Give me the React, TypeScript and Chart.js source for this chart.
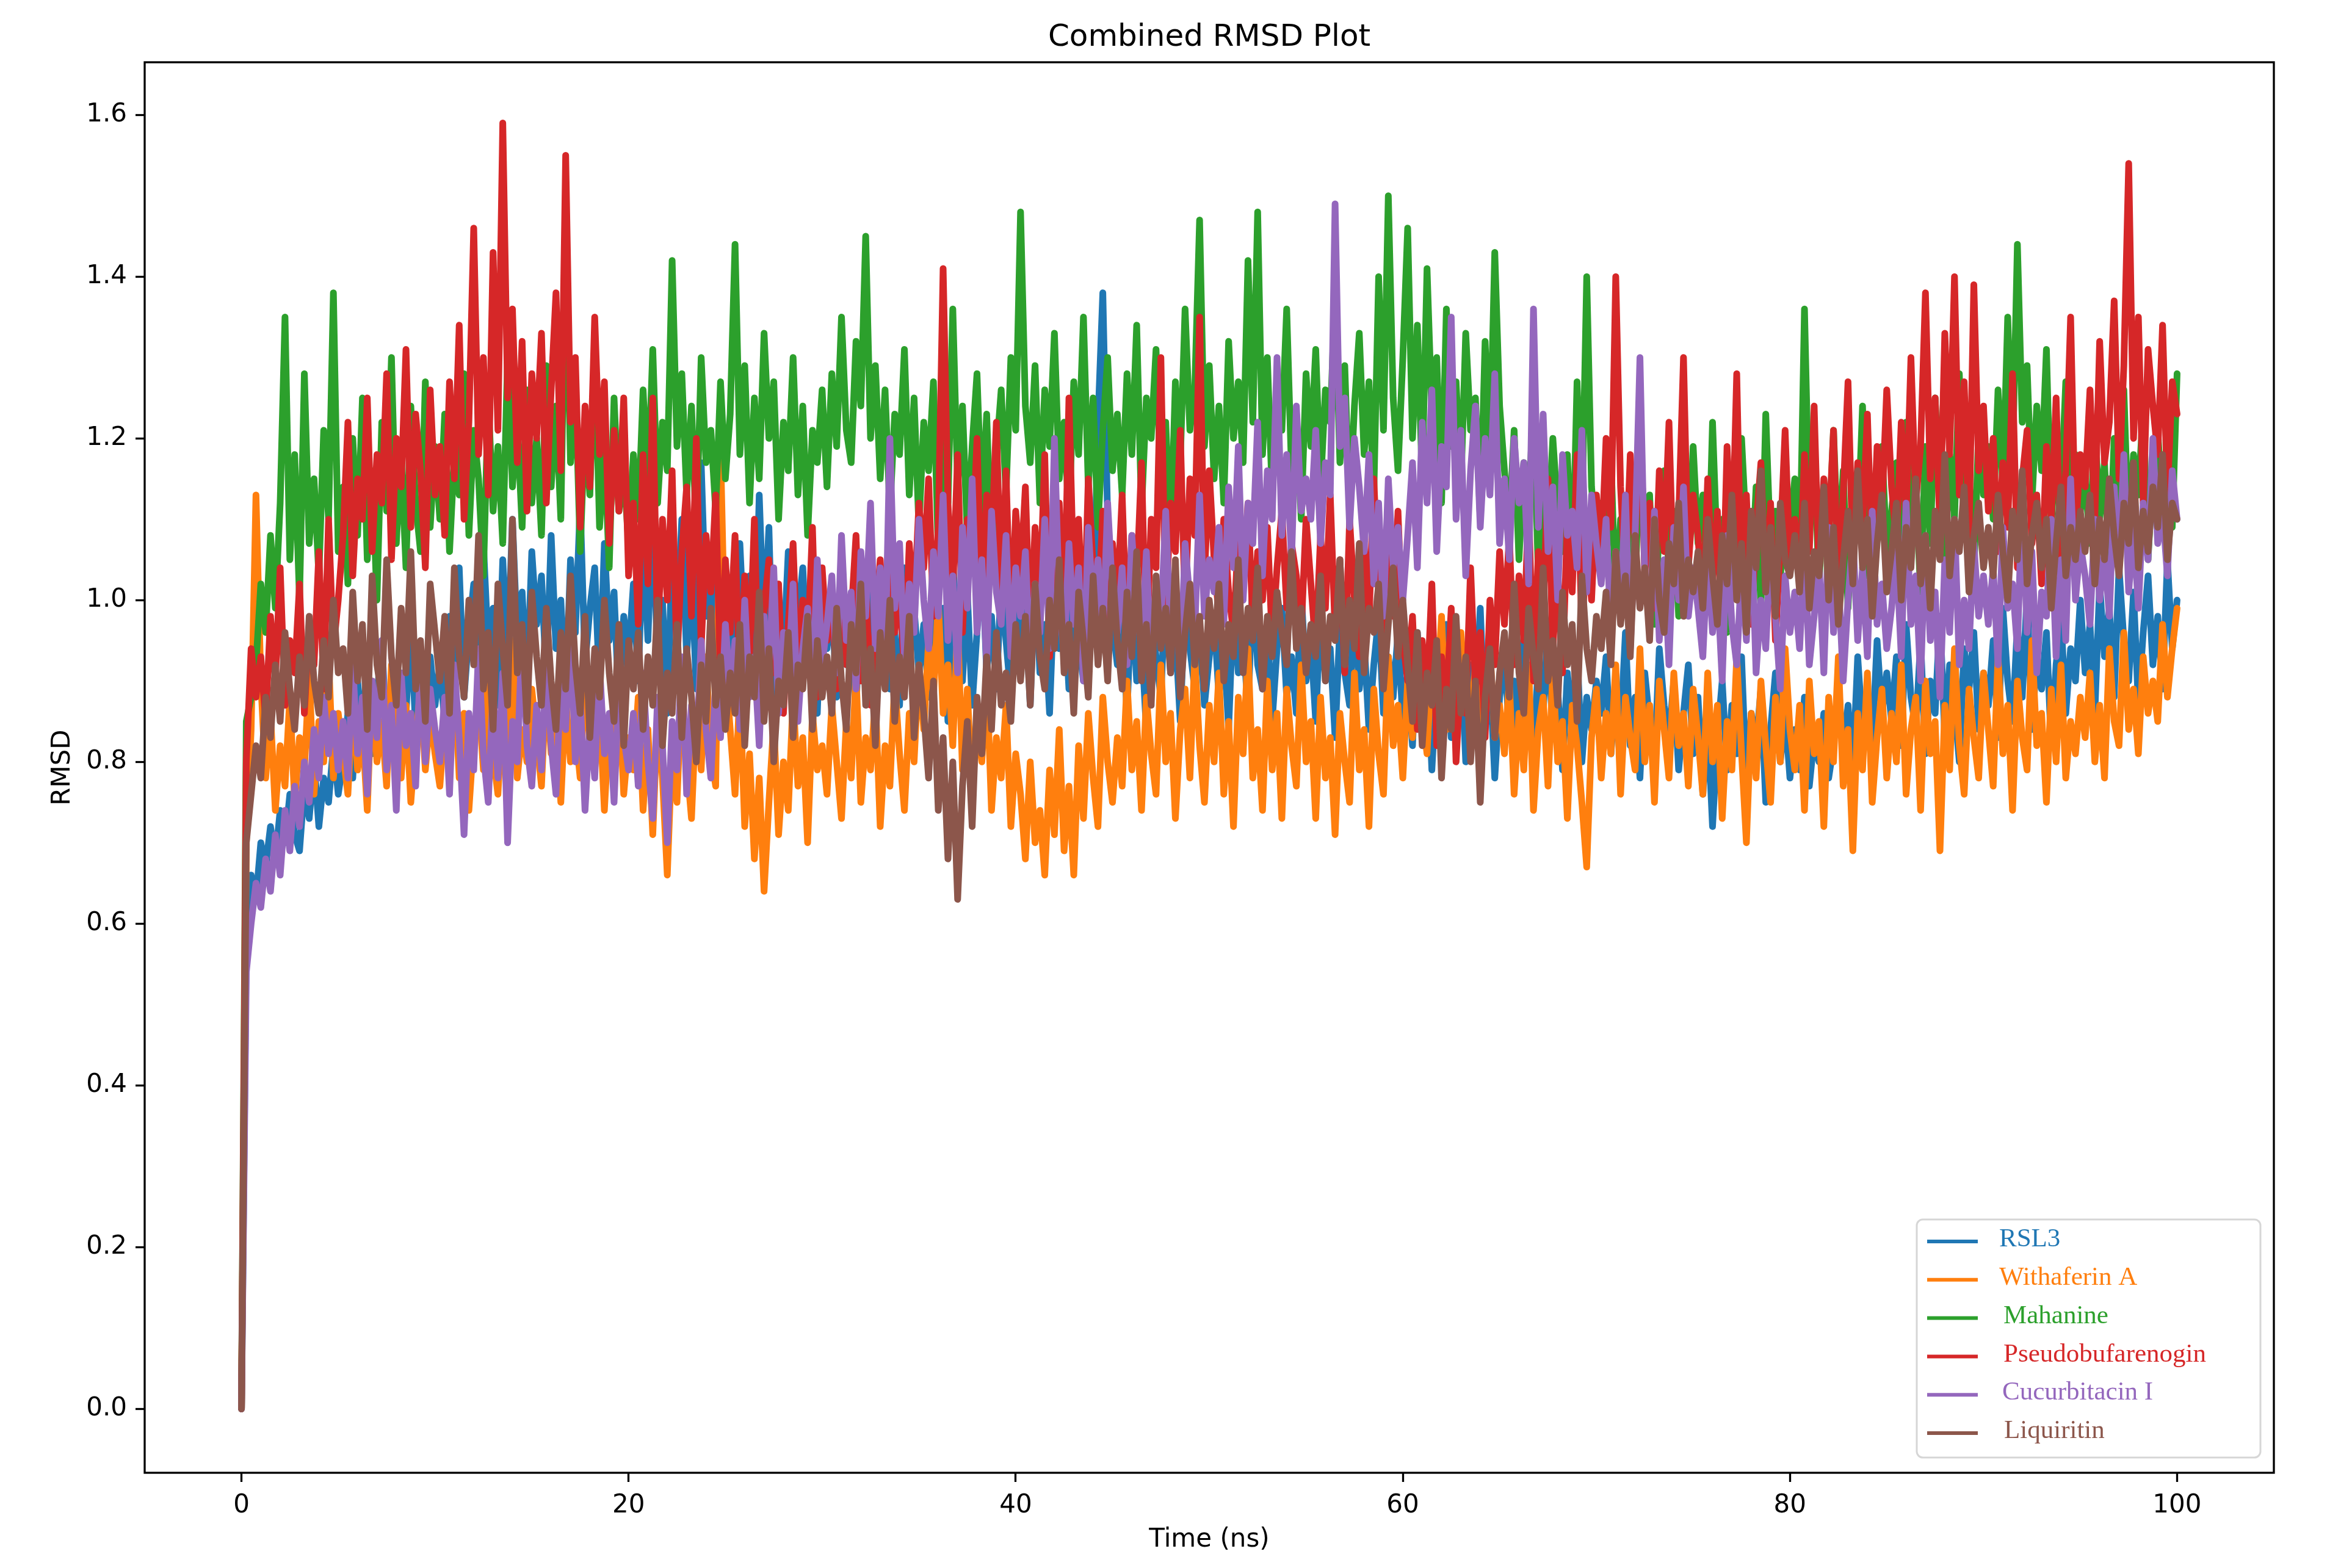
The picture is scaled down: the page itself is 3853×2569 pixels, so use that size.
import React, { useEffect, useRef } from 'react';
import { Chart, registerables } from 'chart.js';

Chart.register(...registerables);

// one frame every 0.25 ns, values in nm in 5 ns blocks
const STEP_NS = 0.25;

const seriesNames = ['RSL3', 'Withaferin A', 'Mahanine', 'Pseudobufarenogin', 'Cucurbitacin I', 'Liquiritin'];
const seriesColors = ['#1f77b4', '#ff7f0e', '#2ca02c', '#d62728', '#9467bd', '#8c564b'];

const rsl3 = [0,
  0.58, 0.66, 0.63, 0.70, 0.67, 0.72, 0.68, 0.74, 0.70, 0.76, 0.71, 0.69, 0.77, 0.73, 0.80, 0.72, 0.78, 0.75, 0.82, 0.76,
  0.80, 0.86, 0.78, 0.90, 0.84, 0.92, 0.81, 0.88, 0.95, 0.83, 0.89, 0.79, 0.91, 0.86, 0.97, 0.84, 0.90, 0.82, 0.93, 0.87,
  0.92, 0.85, 0.98, 0.90, 1.04, 0.88, 0.96, 1.02, 0.91, 1.07, 0.94, 0.99, 0.87, 1.05, 0.93, 1.10, 0.95, 1.01, 0.89, 1.06,
  0.97, 1.03, 0.90, 1.08, 0.94, 1.00, 0.88, 1.05, 0.96, 1.12, 0.92, 0.99, 1.04, 0.89, 1.07, 0.95, 1.01, 0.87, 0.98, 0.93,
  1.02, 0.90, 1.08, 0.95, 1.13, 0.91, 1.00, 0.86, 1.06, 0.97, 1.10, 0.93, 1.04, 0.89, 1.17, 0.98, 1.05, 0.92, 1.12, 0.96,
  1.01, 0.88, 1.07, 0.94, 1.03, 0.90, 1.13, 0.96, 1.09, 0.87, 1.00, 0.93, 1.06, 0.89, 0.98, 1.04, 0.91, 0.97, 0.86, 1.02,
  0.94, 1.00, 0.88, 1.05, 0.92, 0.98, 0.86, 1.03, 0.95, 1.08, 0.90, 0.97, 1.02, 0.89, 0.96, 0.87, 1.04, 0.93, 0.99, 0.91,
  0.97, 0.88, 1.03, 0.92, 0.99, 0.85, 1.05, 0.94, 0.90, 1.01, 0.87, 0.96, 1.06, 0.91, 0.98, 0.89, 1.02, 0.95, 0.88, 1.00,
  0.93, 0.99, 0.87, 1.04, 0.91, 0.97, 0.86, 1.02, 0.94, 1.00, 0.89, 1.06, 0.95, 0.90, 1.03, 0.96, 1.22, 1.38, 1.10, 0.97,
  0.92, 0.98, 0.86, 1.01, 0.90, 0.95, 0.84, 0.99, 0.93, 0.88, 1.02, 0.91, 0.96, 0.85, 1.00, 0.94, 0.89, 0.97, 0.87, 0.93,
  0.98, 0.88, 0.95, 0.84, 1.00, 0.91, 0.96, 0.86, 1.03, 0.92, 0.89, 0.97, 0.85, 0.94, 0.99, 0.88, 0.93, 0.86, 1.01, 0.90,
  0.95, 0.85, 0.99, 0.90, 0.94, 0.83, 0.97, 0.91, 0.87, 1.00, 0.89, 0.95, 0.84, 0.92, 0.98, 0.86, 0.93, 0.88, 0.96, 0.85,
  0.91, 0.82, 0.96, 0.87, 0.93, 0.79, 0.90, 0.85, 0.97, 0.83, 0.89, 0.94, 0.80, 0.92, 0.86, 0.99, 0.84, 0.91, 0.78, 0.88,
  0.93, 0.84, 0.90, 0.81, 0.95, 0.87, 0.82, 0.92, 0.86, 0.97, 0.83, 0.89, 0.79, 0.91, 0.85, 0.94, 0.80, 0.88, 0.84, 0.90,
  0.86, 0.93, 0.81, 0.89, 0.84, 0.96, 0.82, 0.88, 0.78, 0.91, 0.85, 0.80, 0.94, 0.87, 0.83, 0.90, 0.79, 0.86, 0.92, 0.81,
  0.88, 0.76, 0.85, 0.72, 0.83, 0.90, 0.79, 0.87, 0.81, 0.93, 0.77, 0.86, 0.82, 0.89, 0.75, 0.84, 0.91, 0.80, 0.86, 0.78,
  0.84, 0.79, 0.88, 0.77, 0.83, 0.80, 0.86, 0.78, 0.82, 0.90, 0.81, 0.87, 0.79, 0.93, 0.84, 0.89, 0.82, 0.95, 0.86, 0.91,
  0.85, 0.93, 0.82, 0.97, 0.88, 0.84, 0.95, 0.81, 0.90, 0.86, 0.98, 0.83, 0.92, 0.87, 0.80, 0.94, 0.89, 0.96, 0.84, 0.91,
  0.87, 0.95, 0.83, 0.99, 0.90, 0.85, 0.97, 0.88, 1.01, 0.84, 0.93, 0.89, 0.96, 0.82, 0.92, 0.98, 0.86, 0.94, 0.90, 1.00,
  0.91, 0.97, 0.86, 1.02, 0.93, 0.99, 0.88, 1.04, 0.95, 0.90, 1.01, 0.87, 0.96, 1.03, 0.92, 0.98, 0.89, 1.05, 0.94, 1.00,
];

const withaferinA = [0,
  0.70, 0.84, 1.13, 0.90, 0.78, 0.86, 0.74, 0.82, 0.77, 0.88, 0.75, 0.83, 0.79, 0.91, 0.76, 0.85, 0.80, 0.93, 0.78, 0.86,
  0.81, 0.76, 0.88, 0.79, 0.84, 0.74, 0.90, 0.80, 0.85, 0.77, 0.92, 0.82, 0.78, 0.87, 0.75, 0.83, 0.89, 0.79, 0.86, 0.81,
  0.77, 0.85, 0.80, 0.91, 0.78, 0.86, 0.74, 0.83, 0.88, 0.79, 0.93, 0.81, 0.76, 0.87, 0.82, 0.95, 0.78, 0.84, 0.80, 0.89,
  0.83, 0.77, 0.90, 0.81, 0.86, 0.75, 0.88, 0.80, 0.84, 0.78, 0.92, 0.82, 0.79, 0.87, 0.74, 0.85, 0.81, 0.89, 0.76, 0.83,
  0.79, 0.88, 0.74, 0.84, 0.71, 0.86, 0.78, 0.66, 0.82, 0.75, 0.90, 0.80, 0.73, 0.87, 0.79, 0.93, 0.81, 0.77, 1.19, 0.92,
  0.84, 0.76, 0.89, 0.72, 0.81, 0.68, 0.78, 0.64, 0.75, 0.85, 0.71, 0.80, 0.74, 0.88, 0.77, 0.83, 0.70, 0.86, 0.79, 0.82,
  0.76, 0.87, 0.80, 0.73, 0.85, 0.78, 0.91, 0.75, 0.83, 0.79, 0.88, 0.72, 0.82, 0.77, 0.90, 0.81, 0.74, 0.86, 0.80, 0.92,
  0.84, 0.95, 0.88, 1.00, 0.86, 0.92, 0.82, 0.97, 0.79, 0.89, 0.76, 0.85, 0.80, 0.91, 0.74, 0.83, 0.78, 0.87, 0.72, 0.81,
  0.76, 0.68, 0.80, 0.70, 0.74, 0.66, 0.79, 0.71, 0.84, 0.69, 0.77, 0.66, 0.82, 0.73, 0.86, 0.78, 0.72, 0.88, 0.80, 0.75,
  0.83, 0.77, 0.90, 0.79, 0.85, 0.74, 0.88, 0.81, 0.76, 0.92, 0.80, 0.86, 0.73, 0.84, 0.89, 0.78, 0.93, 0.82, 0.75, 0.87,
  0.80, 0.91, 0.76, 0.85, 0.72, 0.88, 0.81, 0.94, 0.78, 0.84, 0.74, 0.90, 0.79, 0.86, 0.73, 0.89, 0.82, 0.77, 0.92, 0.80,
  0.85, 0.73, 0.88, 0.78, 0.83, 0.71, 0.86, 0.80, 0.75, 0.91, 0.79, 0.84, 0.72, 0.89, 0.81, 0.76, 0.93, 0.82, 0.87, 0.78,
  0.90, 0.83, 0.95, 0.86, 0.81, 0.93, 0.87, 0.98, 0.84, 0.91, 0.82, 0.96, 0.88, 0.85, 0.92, 0.80, 0.89, 0.94, 0.83, 0.87,
  0.81, 0.90, 0.76, 0.86, 0.79, 0.92, 0.74, 0.84, 0.88, 0.77, 0.91, 0.80, 0.85, 0.73, 0.87, 0.82, 0.75, 0.67, 0.83, 0.89,
  0.78, 0.86, 0.81, 0.92, 0.76, 0.88, 0.83, 0.79, 0.94, 0.80, 0.87, 0.75, 0.90, 0.84, 0.78, 0.91, 0.82, 0.86, 0.77, 0.89,
  0.83, 0.76, 0.91, 0.80, 0.87, 0.73, 0.85, 0.79, 0.93, 0.81, 0.70, 0.86, 0.78, 0.90, 0.82, 0.75, 0.88, 0.80, 0.94, 0.84,
  0.79, 0.87, 0.74, 0.90, 0.81, 0.85, 0.72, 0.88, 0.80, 0.93, 0.77, 0.84, 0.69, 0.86, 0.79, 0.91, 0.75, 0.83, 0.89, 0.78,
  0.86, 0.80, 0.92, 0.76, 0.84, 0.88, 0.74, 0.90, 0.81, 0.85, 0.69, 0.87, 0.79, 0.94, 0.82, 0.76, 0.89, 0.83, 0.78, 0.91,
  0.84, 0.77, 0.93, 0.81, 0.87, 0.74, 0.90, 0.83, 0.79, 0.95, 0.82, 0.86, 0.75, 0.89, 0.80, 0.92, 0.78, 0.85, 0.81, 0.88,
  0.83, 0.91, 0.80, 0.87, 0.78, 0.94, 0.85, 0.82, 0.96, 0.84, 0.89, 0.81, 0.93, 0.86, 0.90, 0.85, 0.97, 0.88, 0.94, 0.99,
];

const mahanine = [0,
  0.85, 0.88, 0.92, 1.02, 0.96, 1.08, 0.99, 1.12, 1.35, 1.05, 1.18, 1.00, 1.28, 1.07, 1.15, 1.03, 1.21, 1.10, 1.38, 1.06,
  1.14, 1.02, 1.20, 1.08, 1.25, 1.05, 1.16, 1.00, 1.22, 1.11, 1.30, 1.07, 1.18, 1.04, 1.24, 1.12, 1.06, 1.27, 1.09, 1.19,
  1.10, 1.23, 1.06, 1.18, 1.13, 1.28, 1.08, 1.21, 1.15, 1.03, 1.25, 1.11, 1.19, 1.07, 1.30, 1.14, 1.22, 1.09, 1.26, 1.12,
  1.20, 1.08, 1.29, 1.14, 1.24, 1.10, 1.45, 1.17, 1.27, 1.06, 1.22, 1.13, 1.32, 1.09, 1.19, 1.04, 1.25, 1.11, 1.16, 1.07,
  1.18, 1.10, 1.26, 1.14, 1.31, 1.12, 1.22, 1.16, 1.42, 1.19, 1.28, 1.13, 1.24, 1.08, 1.30, 1.17, 1.21, 1.11, 1.27, 1.15,
  1.23, 1.44, 1.18, 1.29, 1.12, 1.25, 1.15, 1.33, 1.20, 1.27, 1.10, 1.22, 1.16, 1.30, 1.13, 1.24, 1.08, 1.21, 1.17, 1.26,
  1.14, 1.28, 1.19, 1.35, 1.21, 1.17, 1.32, 1.24, 1.45, 1.20, 1.29, 1.15, 1.26, 1.11, 1.23, 1.18, 1.31, 1.13, 1.25, 1.09,
  1.22, 1.16, 1.27, 1.06, 1.20, 1.12, 1.36, 1.14, 1.24, 1.08, 1.19, 1.28, 1.11, 1.23, 1.05, 1.18, 1.26, 1.13, 1.30, 1.21,
  1.48, 1.24, 1.17, 1.29, 1.12, 1.26, 1.19, 1.33, 1.15, 1.22, 1.10, 1.27, 1.18, 1.35, 1.14, 1.25, 1.09, 1.21, 1.30, 1.16,
  1.23, 1.13, 1.28, 1.18, 1.34, 1.11, 1.25, 1.20, 1.31, 1.14, 1.22, 1.07, 1.27, 1.17, 1.36, 1.21, 1.26, 1.47, 1.19, 1.29,
  1.15, 1.24, 1.12, 1.32, 1.20, 1.27, 1.17, 1.42, 1.22, 1.48, 1.18, 1.30, 1.13, 1.25, 1.21, 1.36, 1.16, 1.23, 1.10, 1.28,
  1.19, 1.31, 1.14, 1.26, 1.22, 1.38, 1.17, 1.29, 1.11, 1.24, 1.33, 1.18, 1.27, 1.13, 1.40, 1.21, 1.50, 1.25, 1.16, 1.30,
  1.46, 1.20, 1.34, 1.15, 1.41, 1.23, 1.30, 1.12, 1.36, 1.19, 1.27, 1.14, 1.33, 1.21, 1.25, 1.10, 1.32, 1.18, 1.43, 1.24,
  1.16, 1.09, 1.21, 1.05, 1.17, 1.12, 1.24, 1.03, 1.15, 1.08, 1.20, 1.11, 1.06, 1.18, 1.02, 1.27, 1.10, 1.40, 1.14, 1.07,
  1.12, 1.04, 1.18, 0.99, 1.10, 1.06, 1.15, 1.01, 1.20, 1.08, 1.13, 0.97, 1.09, 1.16, 1.03, 1.11, 0.98, 1.14, 1.05, 1.19,
  1.07, 1.13, 1.00, 1.22, 1.05, 1.10, 0.96, 1.16, 1.04, 1.20, 1.08, 1.01, 1.14, 0.99, 1.23, 1.06, 1.11, 1.02, 1.17, 1.09,
  1.15, 1.04, 1.36, 1.10, 1.18, 1.02, 1.13, 1.07, 1.21, 1.05, 1.16, 0.99, 1.12, 1.08, 1.24, 1.03, 1.14, 1.09, 1.19, 1.06,
  1.11, 1.17, 1.04, 1.22, 1.09, 1.14, 1.01, 1.19, 1.07, 1.25, 1.12, 1.05, 1.18, 1.10, 1.28, 1.08, 1.16, 1.03, 1.21, 1.13,
  1.19, 1.10, 1.26, 1.14, 1.35, 1.17, 1.44, 1.22, 1.29, 1.12, 1.24, 1.16, 1.31, 1.09, 1.20, 1.13, 1.27, 1.06, 1.18, 1.11,
  1.15, 1.07, 1.22, 1.10, 1.17, 1.04, 1.20, 1.12, 1.26, 1.08, 1.18, 1.13, 1.24, 1.05, 1.16, 1.21, 1.11, 1.19, 1.09, 1.28,
];

const pseudobufarenogin = [0,
  0.80, 0.94, 0.88, 0.93, 0.85, 0.98, 0.90, 1.04, 0.87, 0.95, 0.91, 1.02, 0.86, 0.97, 0.92, 1.06, 0.89, 1.10, 0.94, 1.00,
  1.08, 1.22, 1.03, 1.15, 1.10, 1.25, 1.06, 1.18, 1.12, 1.28, 1.05, 1.20, 1.14, 1.31, 1.09, 1.23, 1.16, 1.04, 1.26, 1.13,
  1.19, 1.08, 1.27, 1.15, 1.34, 1.10, 1.22, 1.46, 1.18, 1.30, 1.13, 1.43, 1.21, 1.59, 1.25, 1.36, 1.17, 1.32, 1.11, 1.28,
  1.20, 1.33, 1.12, 1.26, 1.38, 1.16, 1.55, 1.22, 1.30, 1.09, 1.24, 1.14, 1.35, 1.18, 1.27, 1.07, 1.21, 1.11, 1.25, 1.03,
  1.12, 0.97, 1.18, 1.02, 1.25, 0.95, 1.10, 1.00, 1.16, 0.92, 1.06, 1.14, 0.98, 1.20, 0.94, 1.08, 1.01, 1.13, 0.90, 1.05,
  0.96, 1.08, 0.89, 1.03, 0.93, 1.10, 0.87, 0.99, 1.05, 0.91, 1.02, 0.86, 0.97, 1.07, 0.90, 1.00, 0.94, 1.09, 0.88, 1.04,
  0.95, 1.01, 0.89, 1.06, 0.92, 0.98, 1.08, 0.90, 1.03, 0.87, 0.97, 1.05, 0.93, 1.10, 0.96, 1.02, 0.91, 1.07, 0.99, 1.12,
  1.04, 1.15, 0.98, 1.09, 1.41, 1.12, 1.01, 1.18, 0.96, 1.10, 1.05, 1.20, 0.99, 1.13, 1.07, 1.22, 1.00, 1.16, 0.95, 1.11,
  1.03, 1.14, 0.95, 1.09, 1.00, 1.18, 0.93, 1.06, 1.12, 0.97, 1.25, 1.02, 1.10, 0.94, 1.15, 1.04, 0.98, 1.11, 0.92, 1.07,
  1.00, 1.13, 0.95, 1.08, 1.02, 1.17, 0.93, 1.10, 1.04, 1.30, 0.98, 1.12, 1.06, 1.21, 0.99, 1.15, 1.08, 1.35, 1.03, 1.16,
  1.05, 0.98, 1.10, 1.01, 0.96, 1.08, 1.02, 1.12, 0.97, 1.06, 1.00, 1.09, 0.95, 1.04, 1.11, 0.99, 1.07, 1.03, 0.96, 1.10,
  1.02, 0.94, 1.08, 0.99, 1.13, 0.96, 1.05, 0.91, 1.10, 1.00, 0.93, 1.07, 0.97, 1.15, 1.01, 0.92, 1.06, 0.98, 1.11, 0.95,
  0.90, 0.98, 0.84, 0.95, 0.88, 1.02, 0.82, 0.93, 0.87, 0.99, 0.80, 0.91, 0.86, 1.04, 0.89, 0.96, 0.83, 1.00, 0.92, 1.06,
  0.97, 1.08, 0.92, 1.03, 0.95, 1.12, 0.90, 1.06, 0.99, 1.15, 0.94, 1.04, 0.91, 1.10, 1.01, 1.18, 0.96, 1.07, 1.00, 1.13,
  1.05, 1.20, 1.09, 1.40, 1.14, 1.02, 1.18, 1.07, 1.25, 1.03, 1.12, 0.99, 1.16, 1.06, 1.22, 1.01, 1.10, 1.30, 1.04, 1.13,
  1.08, 0.98, 1.15, 1.02, 1.11, 0.96, 1.19, 1.05, 1.28, 1.00, 1.13, 0.97, 1.09, 1.17, 1.01, 1.12, 0.95, 1.07, 1.21, 1.04,
  1.10, 1.02, 1.18, 1.06, 1.24, 1.03, 1.15, 1.08, 1.21, 1.00, 1.13, 1.27, 1.05, 1.17, 1.09, 1.23, 1.04, 1.19, 1.11, 1.26,
  1.14, 1.07, 1.22, 1.10, 1.30, 1.12, 1.19, 1.38, 1.15, 1.25, 1.09, 1.33, 1.18, 1.40, 1.13, 1.27, 1.08, 1.39, 1.16, 1.24,
  1.11, 1.20, 1.06, 1.17, 1.09, 1.28, 1.04, 1.15, 1.21, 1.07, 1.13, 1.02, 1.19, 1.10, 1.25, 1.05, 1.16, 1.35, 1.08, 1.18,
  1.14, 1.26, 1.10, 1.32, 1.17, 1.22, 1.37, 1.15, 1.29, 1.54, 1.20, 1.35, 1.12, 1.31, 1.24, 1.18, 1.34, 1.13, 1.27, 1.23,
];

const cucurbitacinI = [0,
  0.54, 0.60, 0.65, 0.62, 0.68, 0.64, 0.71, 0.66, 0.74, 0.69, 0.77, 0.72, 0.80, 0.75, 0.84, 0.78, 0.88, 0.81, 0.86, 0.79,
  0.85, 0.78, 0.92, 0.81, 0.88, 0.76, 0.90, 0.83, 0.95, 0.79, 0.87, 0.74, 0.91, 0.82, 0.86, 0.77, 0.93, 0.80, 0.89, 0.84,
  0.80, 0.88, 0.76, 0.92, 0.83, 0.71, 0.86, 0.79, 0.94, 0.81, 0.75, 0.89, 0.78, 0.91, 0.70, 0.85, 0.80, 0.96, 0.82, 0.77,
  0.87, 0.79, 0.93, 0.82, 0.76, 0.90, 0.84, 0.97, 0.80, 0.88, 0.74, 0.85, 0.78, 0.92, 0.81, 0.86, 0.75, 0.89, 0.83, 0.79,
  0.86, 0.77, 0.91, 0.80, 0.73, 0.88, 0.82, 0.70, 0.85, 0.79, 0.93, 0.76, 0.87, 0.81, 0.95, 0.84, 0.78, 0.90, 0.83, 0.97,
  0.89, 0.95, 0.84, 1.00, 0.88, 0.93, 0.82, 0.98, 0.91, 1.04, 0.86, 0.96, 0.90, 1.02, 0.85, 0.94, 0.99, 0.88, 1.05, 0.92,
  0.97, 1.03, 0.91, 1.08, 0.95, 1.01, 0.89, 1.06, 0.98, 1.12, 0.94, 1.04, 0.92, 1.20, 0.99, 1.07, 0.93, 1.02, 0.96, 1.10,
  1.00, 0.94, 1.06, 0.98, 1.13, 0.95, 1.03, 0.91, 1.09, 0.99, 1.15, 0.96, 1.05, 0.92, 1.11, 1.01, 0.97, 1.08, 0.93, 1.04,
  0.98, 1.06, 0.92, 1.02, 0.96, 1.10, 0.94, 1.20, 1.00, 0.93, 1.07, 0.97, 1.04, 0.90, 1.09, 0.99, 1.05, 0.95, 1.12, 1.01,
  0.96, 1.04, 0.92, 1.08, 0.99, 0.94, 1.06, 0.91, 1.02, 0.97, 1.11, 0.95, 1.03, 0.90, 1.07, 1.00, 0.96, 1.13, 0.98, 1.05,
  1.01, 1.09, 0.97, 1.14, 1.04, 1.19, 1.00, 1.12, 1.07, 1.22, 1.03, 1.16, 1.10, 1.30, 1.08, 1.18, 1.05, 1.24, 1.11, 1.15,
  1.10, 1.21, 1.07, 1.17, 1.13, 1.49, 1.19, 1.25, 1.09, 1.20, 1.14, 1.06, 1.18, 1.02, 1.12, 0.98, 1.15, 1.04, 1.09, 1.00,
  1.08, 1.17, 1.04, 1.22, 1.12, 1.26, 1.06, 1.19, 1.14, 1.35, 1.10, 1.21, 1.03, 1.16, 1.24, 1.09, 1.20, 1.13, 1.28, 1.07,
  1.15, 1.05, 1.20, 1.12, 1.17, 1.02, 1.36, 1.09, 1.23, 1.06, 1.14, 1.00, 1.18, 1.08, 1.11, 1.04, 1.21, 1.01, 1.13, 1.07,
  1.02, 1.10, 0.96, 1.06, 0.99, 1.13, 0.94, 1.08, 1.30, 1.03, 0.97, 1.11, 0.95, 1.05, 0.92, 1.09, 1.00, 1.14, 0.98, 1.04,
  0.99, 0.93, 1.06, 0.96, 1.02, 0.90, 1.08, 0.97, 0.92, 1.04, 0.95, 1.10, 0.91, 1.00, 0.94, 1.07, 0.98, 0.89, 1.03, 0.96,
  1.01, 0.94, 1.07, 0.92, 0.98, 1.05, 0.91, 1.09, 0.96, 1.03, 0.90, 1.00, 1.08, 0.95, 1.04, 0.93, 1.11, 0.97, 1.02, 0.94,
  0.99, 1.06, 0.93, 1.12, 0.97, 1.03, 0.90, 1.08, 0.95, 1.01, 0.88, 1.05, 0.96, 1.10, 0.92, 1.00, 0.94, 1.07, 0.98, 1.03,
  0.97, 1.04, 0.92, 1.09, 0.99, 1.02, 0.94, 1.13, 0.96, 1.06, 0.91, 1.01, 0.98, 1.10, 0.93, 1.05, 0.95, 1.15, 1.00, 1.07,
  1.03, 0.97, 1.10, 1.00, 1.06, 0.98, 1.14, 1.04, 1.18, 1.01, 1.09, 0.99, 1.12, 1.05, 1.20, 1.07, 1.11, 1.03, 1.16, 1.10,
];

const liquiritin = [0,
  0.70, 0.76, 0.82, 0.78, 0.88, 0.83, 0.92, 0.85, 0.96, 0.89, 0.84, 0.93, 0.87, 0.98, 0.90, 0.86, 0.95, 0.88, 1.00, 0.91,
  0.94, 0.86, 1.01, 0.90, 0.97, 0.84, 1.03, 0.92, 0.88, 1.05, 0.93, 0.87, 0.99, 0.91, 1.06, 0.89, 0.95, 0.85, 1.02, 0.96,
  0.90, 0.98, 0.86, 1.04, 0.93, 0.88, 1.00, 0.92, 1.08, 0.89, 0.96, 0.84, 1.02, 0.94, 0.87, 1.10, 0.91, 0.97, 0.85, 1.01,
  0.93, 0.87, 0.99, 0.90, 0.84, 0.96, 0.89, 1.03, 0.92, 0.86, 0.98, 0.83, 0.94, 0.88, 1.00, 0.91, 0.85, 0.97, 0.82, 0.95,
  0.89, 0.96, 0.84, 0.93, 0.87, 1.00, 0.82, 0.91, 0.86, 0.97, 0.83, 0.94, 0.88, 0.80, 0.92, 0.85, 0.99, 0.87, 0.93, 0.84,
  0.91, 0.86, 0.97, 0.82, 0.93, 0.88, 1.01, 0.85, 0.94, 0.80, 0.90, 0.87, 0.96, 0.83, 0.92, 0.89, 0.98, 0.84, 0.95, 0.88,
  0.93, 0.86, 0.99, 0.90, 0.84, 0.97, 0.91, 1.02, 0.87, 0.94, 0.82, 0.96, 0.89, 1.00, 0.85, 0.93, 0.88, 0.98, 0.83, 0.92,
  0.86, 0.78, 0.90, 0.74, 0.83, 0.68, 0.80, 0.63, 0.77, 0.85, 0.72, 0.88, 0.81, 0.93, 0.84, 0.96, 0.87, 0.91, 0.85, 0.97,
  0.90, 0.98, 0.87, 1.02, 0.93, 0.89, 1.00, 0.94, 1.05, 0.91, 0.97, 0.86, 1.01, 0.95, 0.88, 1.03, 0.92, 0.99, 0.90, 1.04,
  0.95, 0.89, 1.01, 0.93, 1.06, 0.90, 0.97, 0.87, 1.03, 0.94, 0.99, 0.91, 1.05, 0.88, 0.96, 1.02, 0.92, 0.98, 0.89, 1.00,
  0.94, 1.02, 0.90, 0.97, 0.93, 1.05, 0.91, 0.99, 0.95, 1.04, 0.89, 0.98, 0.93, 1.01, 0.96, 0.92, 1.06, 0.94, 0.99, 0.91,
  0.97, 0.93, 1.03, 0.90, 0.98, 0.95, 1.05, 0.92, 1.00, 0.94, 1.07, 0.91, 0.99, 0.96, 1.02, 0.89, 0.97, 1.04, 0.93, 1.00,
  0.92, 0.85, 0.96, 0.82, 0.91, 0.87, 0.95, 0.78, 0.89, 0.84, 0.98, 0.86, 0.93, 0.80, 0.90, 0.75, 0.88, 0.94, 0.83, 0.91,
  0.96, 0.88, 1.02, 0.91, 0.86, 0.99, 0.93, 0.89, 1.04, 0.90, 0.95, 0.87, 1.01, 0.92, 0.97, 0.85, 1.03, 0.94, 0.90, 0.98,
  0.94, 1.01, 0.92, 1.06, 0.97, 1.03, 0.93, 1.08, 0.99, 1.04, 0.95, 1.10, 1.00, 0.96, 1.07, 1.02, 1.12, 0.98, 1.05, 1.01,
  1.06, 0.99, 1.10, 1.03, 0.97, 1.08, 1.02, 1.13, 1.00, 1.07, 0.96, 1.11, 1.04, 1.16, 1.01, 1.09, 0.98, 1.12, 1.05, 1.03,
  1.08, 1.01, 1.12, 0.99, 1.06, 1.03, 1.14, 1.00, 1.09, 0.97, 1.05, 1.11, 1.02, 1.16, 1.04, 1.10, 0.98, 1.07, 1.13, 1.01,
  1.06, 1.12, 1.00, 1.09, 1.04, 1.15, 1.02, 1.08, 0.99, 1.11, 1.05, 1.18, 1.03, 1.10, 1.06, 1.14, 1.01, 1.08, 1.12, 1.04,
  1.09, 1.03, 1.13, 1.06, 1.00, 1.11, 1.05, 1.16, 1.02, 1.08, 1.12, 1.04, 1.10, 0.99, 1.07, 1.14, 1.03, 1.09, 1.05, 1.11,
  1.06, 1.13, 1.02, 1.10, 1.05, 1.15, 1.08, 1.03, 1.12, 1.07, 1.17, 1.04, 1.11, 1.06, 1.14, 1.09, 1.18, 1.05, 1.12, 1.10,
];

const seriesValues = [rsl3, withaferinA, mahanine, pseudobufarenogin, cucurbitacinI, liquiritin];

const xTicks = [0, 20, 40, 60, 80, 100];
const yTicks = [0, 0.2, 0.4, 0.6, 0.8, 1.0, 1.2, 1.4, 1.6];

const W = 3853;
const H = 2569;

// matplotlib-style frame: all four spines drawn over the lines
const frameBox = {
  id: 'frameBox',
  afterDatasetsDraw(chart: any) {
    const { ctx, chartArea: a } = chart;
    ctx.save();
    ctx.strokeStyle = '#000';
    ctx.lineWidth = 3.3;
    ctx.strokeRect(a.left, a.top, a.right - a.left, a.bottom - a.top);
    ctx.restore();
  },
};

const plotTitle = {
  id: 'plotTitle',
  afterDraw(chart: any) {
    const { ctx, chartArea: a } = chart;
    ctx.save();
    ctx.fillStyle = '#000';
    ctx.font = '50px "DejaVu Sans"';
    ctx.textAlign = 'center';
    ctx.textBaseline = 'middle';
    ctx.fillText('Combined RMSD Plot', (a.left + a.right) / 2, 62);
    ctx.restore();
  },
};

// legend box sitting in the lower right corner of the axes
const legendIndent = [0, 0, 7, 7, 5, 8];
const cornerLegend = {
  id: 'cornerLegend',
  afterDraw(chart: any) {
    const { ctx, chartArea: a } = chart;
    const boxW = 563;
    const boxH = 390;
    const right = a.right - 22;
    const bottom = a.bottom - 25;
    const left = right - boxW;
    const top = bottom - boxH;
    ctx.save();
    ctx.beginPath();
    ctx.roundRect(left, top, boxW, boxH, 10);
    ctx.fillStyle = 'rgba(255,255,255,0.8)';
    ctx.fill();
    ctx.lineWidth = 3;
    ctx.strokeStyle = 'rgba(204,204,204,0.8)';
    ctx.stroke();
    ctx.font = '43px "Liberation Serif"';
    ctx.textBaseline = 'middle';
    ctx.textAlign = 'left';
    seriesNames.forEach((name, i) => {
      const y = top + 36 + i * 62.8;
      ctx.strokeStyle = seriesColors[i];
      ctx.lineWidth = 6;
      ctx.beginPath();
      ctx.moveTo(left + 17, y);
      ctx.lineTo(left + 100, y);
      ctx.stroke();
      ctx.fillStyle = seriesColors[i];
      ctx.fillText(name, left + 135 + legendIndent[i], y - 3);
    });
    ctx.restore();
  },
};

const App = () => {
  const canvasRef = useRef<HTMLCanvasElement | null>(null);
  const chartRef = useRef<Chart | null>(null);

  useEffect(() => {
    if (!canvasRef.current) return;
    if (chartRef.current) chartRef.current.destroy();

    Chart.defaults.font.family = '"DejaVu Sans"';
    Chart.defaults.color = '#000';

    const datasets = seriesValues.map((vals, k) => ({
      label: seriesNames[k],
      data: vals.map((v, i) => ({ x: i * STEP_NS, y: v })),
      borderColor: seriesColors[k],
      backgroundColor: seriesColors[k],
      // the source has ~10x more frames; a heavier stroke gives the same solid bands
      borderWidth: 11,
      borderJoinStyle: 'round' as const,
      borderCapStyle: 'round' as const,
      pointRadius: 0,
      tension: 0,
      fill: false,
      // later series sit on top, like matplotlib's plotting order
      order: seriesValues.length - 1 - k,
    }));

    chartRef.current = new Chart(canvasRef.current, {
      type: 'line',
      data: { datasets },
      options: {
        animation: false,
        responsive: true,
        maintainAspectRatio: false,
        devicePixelRatio: 1,
        layout: { padding: { top: 102, right: W - 3725, bottom: 0, left: 0 } },
        plugins: {
          legend: { display: false },
          tooltip: { enabled: false },
          title: { display: false },
        },
        scales: {
          x: {
            type: 'linear',
            min: -5,
            max: 105,
            afterBuildTicks: (s: any) => { s.ticks = xTicks.map((v) => ({ value: v })); },
            afterFit: (s: any) => { s.height = 156; s.paddingLeft = 0; s.paddingRight = 0; },
            border: { display: false },
            grid: { display: true, drawOnChartArea: false, drawTicks: true, tickLength: 15, tickWidth: 3.3, tickColor: '#000' },
            ticks: { font: { size: 42 }, color: '#000', padding: 14, maxRotation: 0, callback: (v: any) => String(v) },
            title: { display: true, text: 'Time (ns)', font: { size: 42 }, color: '#000', padding: { top: 0, bottom: 21 } },
          },
          y: {
            type: 'linear',
            min: -0.079,
            max: 1.665,
            afterBuildTicks: (s: any) => { s.ticks = yTicks.map((v) => ({ value: v })); },
            afterFit: (s: any) => { s.width = 237; s.paddingTop = 0; s.paddingBottom = 0; },
            border: { display: false },
            grid: { display: true, drawOnChartArea: false, drawTicks: true, tickLength: 15, tickWidth: 3.3, tickColor: '#000' },
            ticks: { font: { size: 42 }, color: '#000', padding: 14, callback: (v: any) => Number(v).toFixed(1) },
            title: { display: true, text: 'RMSD', font: { size: 42 }, color: '#000', padding: { top: 78, bottom: 0 } },
          },
        },
      },
      plugins: [frameBox, plotTitle, cornerLegend],
    });

    return () => {
      if (chartRef.current) {
        chartRef.current.destroy();
        chartRef.current = null;
      }
    };
  }, []);

  return (
    <div style={{ position: 'fixed', left: 0, top: 0, width: W + 'px', height: H + 'px', background: '#fff' }}>
      <canvas ref={canvasRef} />
    </div>
  );
};

export default App;
